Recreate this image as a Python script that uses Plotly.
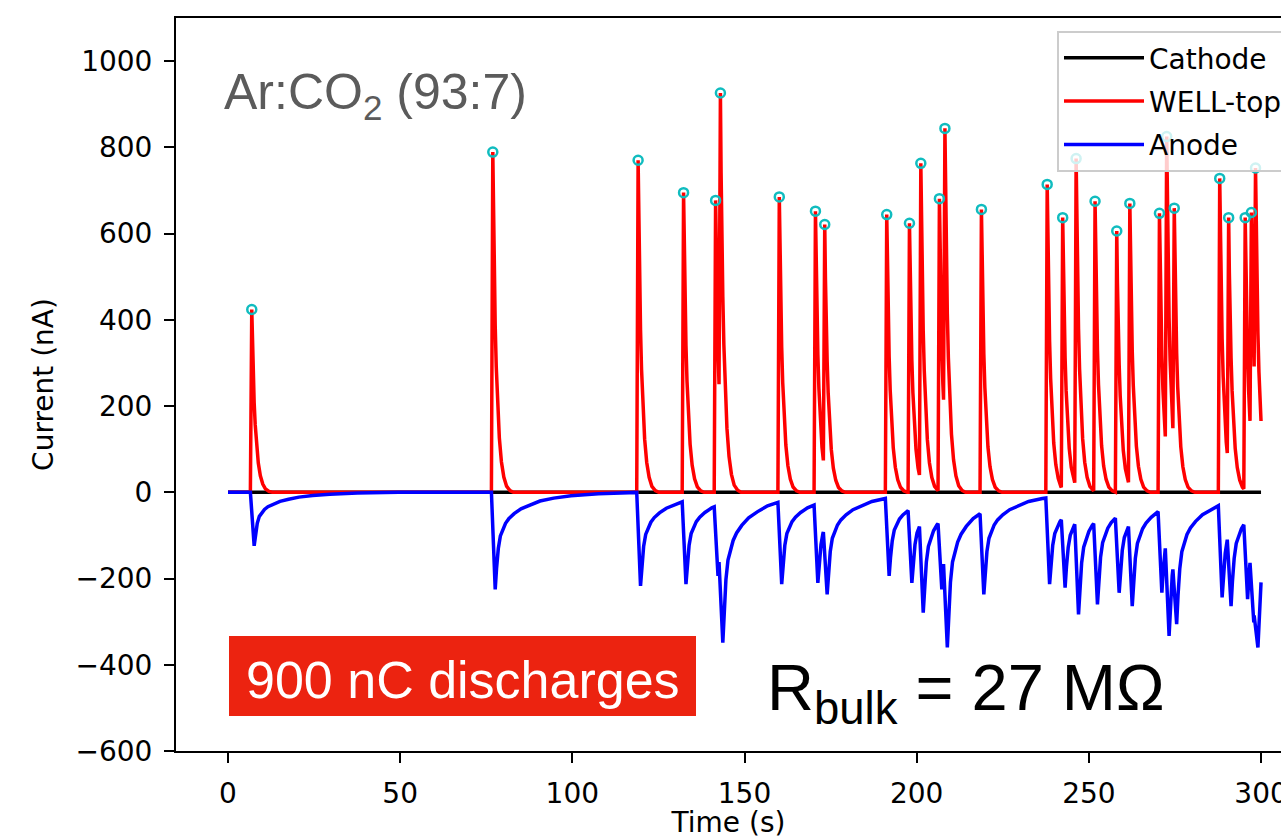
import numpy as np
import plotly.graph_objects as go

# ---------------- data ----------------
T_START, T_END = 0.0, 300.0

# discharge events: time of WELL-top peak (s) and peak current (nA)
PEAK_TIME_S = [6.9, 76.9, 119.1, 132.3, 141.6, 143.0, 160.1, 170.6, 173.3, 191.3,
               197.9, 201.2, 206.6, 208.2, 218.8, 237.9, 242.4, 246.3, 251.8, 258.1,
               261.9, 270.5, 272.6, 274.8, 288.0, 290.6, 295.4, 297.2, 298.4]
WELL_TOP_PEAK_NA = [424, 789, 770, 695, 677, 926, 685, 652, 621, 644,
                    624, 763, 681, 844, 656, 714, 637, 774, 675, 606,
                    670, 647, 825, 659, 728, 637, 637, 649, 752]
# anode minimum reached after each discharge (nA)
ANODE_MIN_NA = [-124, -225, -217, -213, -194, -349, -213, -210, -237, -194,
                -210, -279, -225, -360, -237, -213, -221, -283, -260, -233,
                -264, -233, -333, -306, -244, -264, -248, -302, -360]

CATHODE_T_S = [T_START, T_END]
CATHODE_NA = [0.0, 0.0]

# pulse shapes
WELL_RISE_S = 0.4
WELL_DECAY_S = [0, 0.2, 0.4, 0.7, 1.0, 1.4, 1.9, 2.5, 3.2, 4.0, 5.0, 6.0]
WELL_DECAY_FRAC = [1, 0.8, 0.64, 0.49, 0.37, 0.26, 0.16, 0.09, 0.045, 0.018, 0.005, 0]
ANODE_LEAD_S = 0.4   # anode starts falling this long before the WELL-top peak
ANODE_LAG_S = 0.7    # anode minimum this long after the WELL-top peak
ANODE_RECOVERY_S = [0, 0.4, 0.9, 1.5, 2.2, 3.0, 4.0, 5.5, 7.5, 10, 13, 17, 22, 30, 42]
ANODE_RECOVERY_FRAC = [0, 0.22, 0.42, 0.55, 0.62, 0.68, 0.73, 0.78, 0.83, 0.87,
                       0.91, 0.94, 0.965, 0.985, 1.0]

# ---------------- build traces ----------------
n = len(PEAK_TIME_S)

def well_value(i, t):
    off = t - PEAK_TIME_S[i]
    return WELL_TOP_PEAK_NA[i] * float(np.interp(off, WELL_DECAY_S, WELL_DECAY_FRAC, left=1, right=0))

well_t, well_v = [T_START], [0.0]
for i in range(n):
    tp, P = PEAK_TIME_S[i], WELL_TOP_PEAK_NA[i]
    start = tp - WELL_RISE_S
    v0 = well_value(i - 1, start) if i > 0 else 0.0
    well_t.append(start); well_v.append(v0)
    nxt = PEAK_TIME_S[i + 1] - WELL_RISE_S if i + 1 < n else T_END
    for off, f in zip(WELL_DECAY_S, WELL_DECAY_FRAC):
        t = tp + off
        if t >= nxt:
            break
        well_t.append(t); well_v.append(P * f)
    if i + 1 == n:
        well_t.append(T_END); well_v.append(well_value(i, T_END))

def anode_value(i, t):
    off = t - (PEAK_TIME_S[i] + ANODE_LAG_S)
    g = float(np.interp(off, ANODE_RECOVERY_S, ANODE_RECOVERY_FRAC, left=0, right=1))
    return ANODE_MIN_NA[i] * (1 - g)

an_t, an_v = [T_START], [0.0]
for i in range(n):
    tp, D = PEAK_TIME_S[i], ANODE_MIN_NA[i]
    start = tp - ANODE_LEAD_S
    v0 = anode_value(i - 1, start) if i > 0 else 0.0
    an_t.append(start); an_v.append(v0)
    td = tp + ANODE_LAG_S
    an_t.append(td); an_v.append(D)
    nxt = PEAK_TIME_S[i + 1] - ANODE_LEAD_S if i + 1 < n else T_END
    for off, g in zip(ANODE_RECOVERY_S[1:], ANODE_RECOVERY_FRAC[1:]):
        t = td + off
        if t >= nxt:
            break
        an_t.append(t); an_v.append(D * (1 - g))
    if i + 1 == n:
        an_t.append(T_END); an_v.append(anode_value(i, T_END))

# ---------------- figure ----------------
W, H = 1281, 839
ML, MR, MT, MB = 176, 0, 18, 88
PW, PH = W - ML - MR, H - MT - MB

def px(x):
    return (x - ML) / PW

def py(y):
    return (H - MB - y) / PH

LW = 3.5
fig = go.Figure()
fig.add_trace(go.Scatter(x=CATHODE_T_S, y=CATHODE_NA, mode="lines", name="Cathode",
                         legendgroup="c", line=dict(color="#000000", width=LW)))
fig.add_trace(go.Scatter(x=well_t, y=well_v, mode="lines", name="WELL-top",
                         legendgroup="w", line=dict(color="#ff0000", width=LW)))
fig.add_trace(go.Scatter(x=an_t, y=an_v, mode="lines", name="Anode",
                         legendgroup="a", line=dict(color="#0000ff", width=LW)))
fig.add_trace(go.Scatter(x=PEAK_TIME_S, y=WELL_TOP_PEAK_NA, mode="markers", showlegend=False,
                         marker=dict(symbol="circle-open", size=9, color="#10bcbf",
                                     line=dict(width=2.5, color="#10bcbf"))))

tick_font = dict(family="DejaVu Sans", size=28, color="#000000")
fig.update_layout(
    width=W, height=H,
    margin=dict(l=ML, r=MR, t=MT, b=MB, autoexpand=False),
    paper_bgcolor="white", plot_bgcolor="white",
    showlegend=True,
    legend=dict(x=px(1057), y=py(31), xanchor="left", yanchor="top",
                bgcolor="rgba(255,255,255,0.8)", bordercolor="#cccccc", borderwidth=2,
                itemwidth=80, tracegroupgap=4, traceorder="grouped",
                font=dict(family="DejaVu Sans", size=28, color="#000000")),
    xaxis=dict(range=[-15.1, 305.8], tickmode="array", tickvals=[0, 50, 100, 150, 200, 250, 300],
               ticks="outside", ticklen=10, tickwidth=2, tickcolor="#000000",
               showline=True, linewidth=2, linecolor="#000000", mirror=True,
               showgrid=False, zeroline=False, tickfont=tick_font, automargin=False,
               ticklabeloverflow="allow", ticklabelstandoff=6,
               title=dict(text="Time (s)", font=tick_font, standoff=17)),
    yaxis=dict(range=[-600, 1100], tickmode="array",
               tickvals=[-600, -400, -200, 0, 200, 400, 600, 800, 1000],
               ticks="outside", ticklen=10, tickwidth=2, tickcolor="#000000",
               showline=True, linewidth=2, linecolor="#000000", mirror=False,
               showgrid=False, zeroline=False, tickfont=tick_font, automargin=False,
               ticklabelstandoff=6,
               title=dict(text="Current (nA)", font=tick_font, standoff=14)),
    shapes=[dict(type="rect", xref="paper", yref="paper",
                 x0=px(229), x1=px(696), y0=py(716), y1=py(636),
                 fillcolor="#ec2310", line=dict(width=0), layer="above")],
    annotations=[
        dict(text="Ar:CO<sub>2</sub> (93:7)", xref="paper", yref="paper",
             x=px(222), y=py(96), xanchor="left", yanchor="middle", showarrow=False,
             font=dict(family="Liberation Sans, Arial", size=50, color="#5b5b5b")),
        dict(text="900 nC discharges", xref="paper", yref="paper",
             x=px(462.5), y=py(680), xanchor="center", yanchor="middle", showarrow=False,
             font=dict(family="Liberation Sans, Arial", size=52, color="#ffffff")),
        dict(text="R<sub>bulk</sub> = 27 MΩ", xref="paper", yref="paper",
             x=px(966), y=py(692), xanchor="center", yanchor="middle", showarrow=False,
             font=dict(family="Liberation Sans, Arial", size=65, color="#000000")),
    ],
)

fig.write_html("out.html")
